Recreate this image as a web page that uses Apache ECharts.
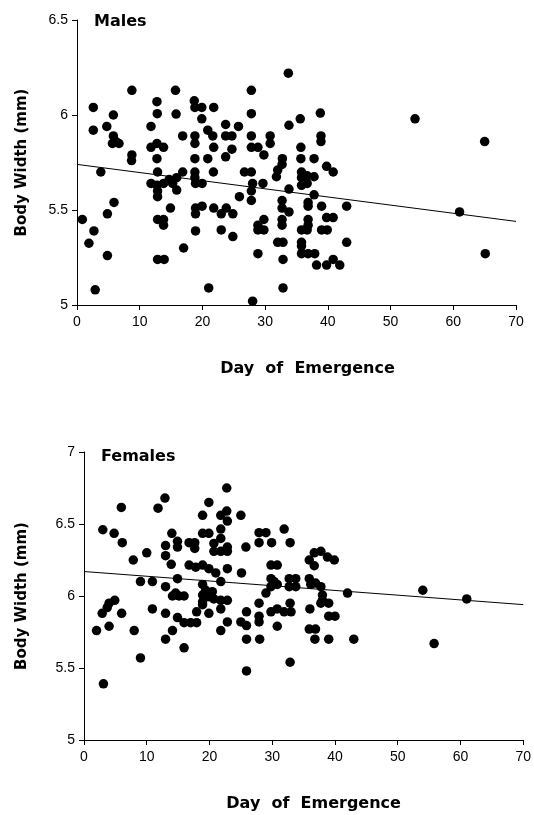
<!DOCTYPE html>
<html>
<head>
<meta charset="utf-8">
<script src="https://cdn.jsdelivr.net/npm/echarts@6/dist/echarts.min.js"></script>
<style>
  html, body { margin: 0; padding: 0; background: #fff; }
  #main { width: 534px; height: 815px; }
</style>
</head>
<body>
<div id="main"></div>
<script>
// data: [day of emergence, body width]
var xTicks = [0, 10, 20, 30, 40, 50, 60, 70];
var maleYTicks = [5, 5.5, 6, 6.5];
var femaleYTicks = [5, 5.5, 6, 6.5, 7];

var malePoints = [
    [8.75,6.13],[15.7,6.13],[2.6,6.04],[12.75,6.07],[18.7,6.075],[18.8,6.04],[19.9,6.04],[21.8,6.04],
    [5.8,6.0],[12.8,6.007],[15.8,6.005],[19.9,5.98],[4.75,5.94],[11.8,5.94],[2.6,5.92],[20.85,5.92],
    [21.65,5.89],[23.7,5.95],[23.7,5.89],[5.8,5.89],[6.2,5.86],[6.7,5.85],[5.65,5.85],[16.85,5.89],
    [18.8,5.89],[18.8,5.85],[21.8,5.83],[11.8,5.83],[12.75,5.85],[13.8,5.83],[8.75,5.79],[12.75,5.77],
    [18.8,5.77],[20.85,5.77],[23.7,5.78],
    [33.7,6.22],[27.8,6.13],[27.8,6.007],[35.6,5.98],[38.8,6.01],[33.8,5.946],[25.75,5.94],[24.7,5.89],
    [27.8,5.89],[30.8,5.89],[30.8,5.85],[38.9,5.89],[38.9,5.86],[24.7,5.82],[27.8,5.83],[28.85,5.83],
    [29.8,5.79],[35.7,5.83],[32.75,5.77],[35.7,5.77],[37.8,5.77],
    [8.7,5.76],[3.8,5.70],[12.85,5.70],[16.85,5.70],[18.8,5.70],[18.8,5.67],[21.75,5.70],[11.8,5.64],
    [12.75,5.63],[13.8,5.64],[14.7,5.66],[15.25,5.64],[15.9,5.67],[12.85,5.60],[12.85,5.57],[15.9,5.605],
    [18.9,5.64],[19.95,5.64],[5.9,5.54],[14.9,5.51],[18.9,5.51],[19.95,5.52],[18.9,5.48],[21.8,5.51],
    [23,5.48],[23.8,5.51],[4.85,5.48],[0.85,5.45],[12.85,5.45],[13.8,5.45],[13.8,5.42],[2.7,5.39],
    [18.9,5.39],[23,5.395],[1.9,5.325],[4.85,5.26],[17,5.30],[12.85,5.24],[13.9,5.24],[2.9,5.08],[21,5.09],
    [32.7,5.74],[39.8,5.73],[40.85,5.70],[26.7,5.70],[27.8,5.70],[32,5.71],[31.8,5.675],[35.8,5.70],
    [35.8,5.67],[36.7,5.68],[37.8,5.675],[36.7,5.64],[35.8,5.63],[28,5.64],[29.65,5.64],[27.8,5.60],
    [27.8,5.55],[33.8,5.61],[25.9,5.57],[37.8,5.58],[32.7,5.55],[32.7,5.51],[33.8,5.49],[32.7,5.45],
    [32.7,5.42],[36.85,5.54],[36.85,5.52],[39,5.52],[43,5.52],[24.85,5.48],[29.8,5.45],[28.85,5.42],
    [29.8,5.395],[28.85,5.395],[36.85,5.45],[36.85,5.42],[35.8,5.395],[36.7,5.395],[39.8,5.46],[40.85,5.46],
    [39,5.395],[39.9,5.395],[24.85,5.36],[32,5.33],[32.85,5.33],[35.8,5.33],[35.8,5.31],[43,5.33],
    [35.8,5.27],[36.85,5.27],[37.9,5.27],[38.2,5.21],[28.85,5.27],[32.85,5.24],[39.8,5.21],[40.85,5.24],
    [41.9,5.21],[32.85,5.09],[28,5.02],
    [53.9,5.98],[65,5.86],[61,5.49],[65.1,5.27]
];

var femalePoints = [
    [22.75,6.75],[12.9,6.68],[11.8,6.61],[5.95,6.615],[19.9,6.65],[18.9,6.56],[21.8,6.56],[22.75,6.59],
    [22.85,6.52],[3.0,6.46],[4.8,6.435],[6.1,6.37],[14,6.435],[18.9,6.435],[19.9,6.435],[21.8,6.465],
    [21.8,6.40],[22.85,6.34],[22.85,6.31],[13,6.35],[14.9,6.38],[14.9,6.34],[13,6.28],[16.75,6.37],
    [17.65,6.37],[17.65,6.33],[20.7,6.365],[20.7,6.31],[21.8,6.31],[10,6.30],[7.85,6.25],[13.9,6.22],
    [16.75,6.215],[17.8,6.20],[18.9,6.215],[19.9,6.19],[21,6.16],[22.85,6.19],[14.9,6.12],[9.0,6.10],
    [10.9,6.10],[13,6.065],[21.8,6.10],[18.9,6.08],[19.4,6.04],[20.45,6.03],[14.6,6.02],
    [25,6.56],[31.9,6.465],[27.9,6.44],[29,6.44],[27.9,6.37],[29.9,6.37],[32.85,6.37],[25.8,6.34],
    [37.75,6.31],[36.7,6.30],[35.9,6.25],[36.7,6.21],[38.8,6.27],[39.9,6.25],[29.8,6.215],[30.8,6.215],
    [25.1,6.16],[29.8,6.12],[30.3,6.10],[29.8,6.065],[30.8,6.08],[32.7,6.12],[33.75,6.12],[32.7,6.065],
    [33.75,6.065],[35.9,6.12],[36.15,6.08],[36.9,6.09],[37.75,6.065],[29,6.02],[42,6.02],
    [14.1,6.0],[15.15,6.0],[15.95,6.0],[18.9,6.007],[18.9,5.96],[19.9,5.995],[20.7,5.98],[21.8,5.97],
    [22.85,5.97],[4.9,5.97],[4.0,5.95],[3.7,5.92],[2.9,5.88],[6.0,5.88],[10.9,5.91],[13,5.88],
    [21.8,5.91],[18.9,5.94],[19.9,5.88],[14.9,5.85],[15.95,5.815],[17,5.815],[17.95,5.815],[17.95,5.89],
    [22.85,5.82],[2.0,5.76],[4.0,5.79],[8.0,5.76],[14.1,5.76],[21.8,5.76],[13,5.70],[15.95,5.64],
    [9.0,5.57],[3.1,5.39],
    [38,6.007],[38,5.97],[37.75,5.95],[39,5.95],[27.9,5.95],[32.85,5.95],[30.8,5.91],[29.8,5.89],
    [31.9,5.89],[33,5.89],[36,5.91],[25.9,5.89],[27.9,5.86],[27.9,5.82],[39,5.86],[40,5.86],
    [25,5.82],[25.9,5.795],[30.8,5.79],[35.9,5.77],[36.9,5.77],[25.9,5.70],[28,5.70],[36.8,5.70],
    [39,5.70],[43,5.70],[32.85,5.54],[25.9,5.48],
    [54,6.04],[61,5.98],[55.8,5.67]
];

// fitted regression lines (end points)
var maleFit = [[0, 5.74], [70, 5.44]];
var femaleFit = [[0, 6.17], [70, 5.94]];

var myChart = echarts.init(document.getElementById('main'));

var tickFont = { color: '#000', fontSize: 14, fontFamily: 'Liberation Sans, Arial, sans-serif' };
var nameFont = { color: '#000', fontSize: 15, fontWeight: 'bold', fontFamily: 'DejaVu Sans, sans-serif' };
var titleFont = { color: '#000', fontSize: 16, fontWeight: 'bold', fontFamily: 'DejaVu Sans, sans-serif' };
var axisLine = { show: true, lineStyle: { color: '#000', width: 1 } };
var axisTick = { show: true, inside: false, length: 5, lineStyle: { color: '#000', width: 1 } };

function xAxisFor(grid, padLeft) {
    return {
        type: 'value', gridIndex: grid, min: xTicks[0], max: xTicks[xTicks.length - 1], interval: 10,
        name: 'Day  of  Emergence', nameLocation: 'middle', nameGap: 56,
        nameTextStyle: { color: '#000', fontSize: 16, fontWeight: 'bold', fontFamily: 'DejaVu Sans, sans-serif', padding: [0, 0, 0, padLeft] },
        axisLine: axisLine, axisTick: axisTick, splitLine: { show: false },
        axisLabel: Object.assign({ margin: 10 }, tickFont)
    };
}

function yAxisFor(grid, ticks, gap) {
    return {
        type: 'value', gridIndex: grid, min: ticks[0], max: ticks[ticks.length - 1], interval: 0.5,
        name: 'Body Width (mm)', nameLocation: 'middle', nameGap: gap, nameTextStyle: nameFont,
        axisLine: axisLine, axisTick: axisTick, splitLine: { show: false },
        axisLabel: Object.assign({ margin: 9 }, tickFont)
    };
}

myChart.setOption({
    backgroundColor: '#fff',
    animation: false,
    title: [
        { text: 'Males', left: 94, top: 14, padding: 0, textStyle: titleFont },
        { text: 'Females', left: 101, top: 449, padding: 0, textStyle: titleFont }
    ],
    grid: [
        { left: 77, right: 18, top: 20, height: 285 },
        { left: 84, right: 10, top: 452, height: 288 }
    ],
    xAxis: [xAxisFor(0, 22), xAxisFor(1, 20)],
    yAxis: [yAxisFor(0, maleYTicks, 47), yAxisFor(1, femaleYTicks, 54)],
    series: [
        { type: 'scatter', xAxisIndex: 0, yAxisIndex: 0, data: malePoints, symbolSize: 9.5, itemStyle: { color: '#000', opacity: 1 } },
        { type: 'line', xAxisIndex: 0, yAxisIndex: 0, data: maleFit, symbol: 'none', lineStyle: { color: '#000', width: 1 } },
        { type: 'scatter', xAxisIndex: 1, yAxisIndex: 1, data: femalePoints, symbolSize: 9.5, itemStyle: { color: '#000', opacity: 1 } },
        { type: 'line', xAxisIndex: 1, yAxisIndex: 1, data: femaleFit, symbol: 'none', lineStyle: { color: '#000', width: 1 } }
    ]
});
</script>
</body>
</html>
